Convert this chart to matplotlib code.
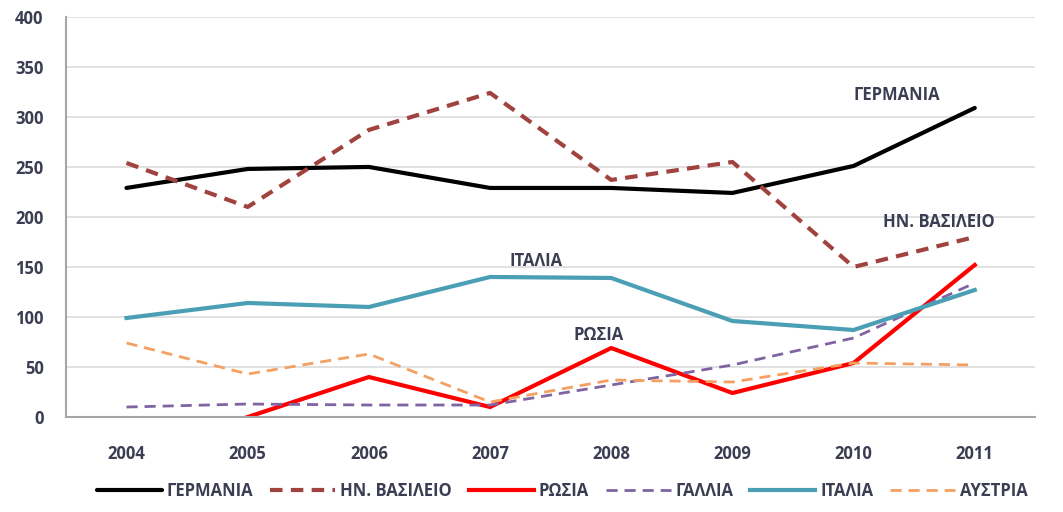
import matplotlib
matplotlib.use("Agg")
import matplotlib.pyplot as plt
import numpy as np

years = ['2004', '2005', '2006', '2007', '2008', '2009', '2010', '2011']
germany = [229, 248, 250, 229, 229, 224, 251, 309]
uk = [254, 210, 287, 324, 237, 255, 150, 180]
russia = [np.nan, 0, 40, 10, 69, 24, 54, 152]
france = [10, 13, 12, 12, 32, 52, 79, 134]
italy = [99, 114, 110, 140, 139, 96, 87, 127]
austria = [74, 43, 63, 15, 37, 35, 54, 52]

names = ['ΓΕΡΜΑΝΙΑ', 'ΗΝ. ΒΑΣΙΛΕΙΟ', 'ΡΩΣΙΑ', 'ΓΑΛΛΙΑ', 'ΙΤΑΛΙΑ', 'ΑΥΣΤΡΙΑ']
txt_col = '#3b3d52'

plt.rcParams['font.family'] = ['Open Sans', 'DejaVu Sans']
plt.rcParams['font.weight'] = 'bold'

fig = plt.figure(figsize=(10.63, 5.12), dpi=100)
ax = fig.add_axes([0.062, 0.1855, 0.912, 0.7815])

x = np.arange(len(years))
ax.plot(x, germany, color='black', lw=3, label=names[0], solid_capstyle='round')
ax.plot(x, uk, color='#a0433f', lw=3, ls=(0, (3, 2)), label=names[1])
ax.plot(x, russia, color='#ff0000', lw=3, label=names[2])
ax.plot(x, france, color='#8064a2', lw=2, ls=(0, (4, 2.5)), label=names[3])
ax.plot(x, italy, color='#4a9fb5', lw=3, label=names[4])
ax.plot(x, austria, color='#f3a062', lw=2, ls=(0, (4, 2.5)), label=names[5])

# labels placed next to the lines
lab_kw = dict(ha='center', va='center', fontsize=12, color=txt_col, weight='bold')
ax.text(6.36, 322, names[0], **lab_kw)
ax.text(6.7, 195, names[1], **lab_kw)
ax.text(3.38, 156, names[4], **lab_kw)
ax.text(3.9, 82, names[2], **lab_kw)

ax.set_xlim(-0.5, 7.5)
ax.set_ylim(0, 400)
ax.set_yticks(np.arange(0, 401, 50))
ax.set_xticks(x)
ax.set_xticklabels(years)
ax.tick_params(axis='both', length=0, labelsize=12, labelcolor=txt_col)
ax.tick_params(axis='x', pad=20)
ax.tick_params(axis='y', pad=16)
for lab in ax.get_xticklabels() + ax.get_yticklabels():
    lab.set_fontweight('bold')
ax.grid(axis='y', color='#dcdcdc', lw=1.2)
ax.set_axisbelow(True)
for s in ['top', 'right']:
    ax.spines[s].set_visible(False)
ax.spines['left'].set_color('#a6a6a6')
ax.spines['bottom'].set_color('#a6a6a6')
ax.spines['left'].set_linewidth(1.5)
ax.spines['bottom'].set_linewidth(1.5)

leg = fig.legend(loc='lower center', ncol=6, bbox_to_anchor=(0.529, -0.005), frameon=False,
                 prop={'size': 12, 'weight': 'bold'}, handlelength=3.9,
                 columnspacing=1.0, handletextpad=0.3)
for t in leg.get_texts():
    t.set_color(txt_col)

fig.savefig('out.png', dpi=100)
